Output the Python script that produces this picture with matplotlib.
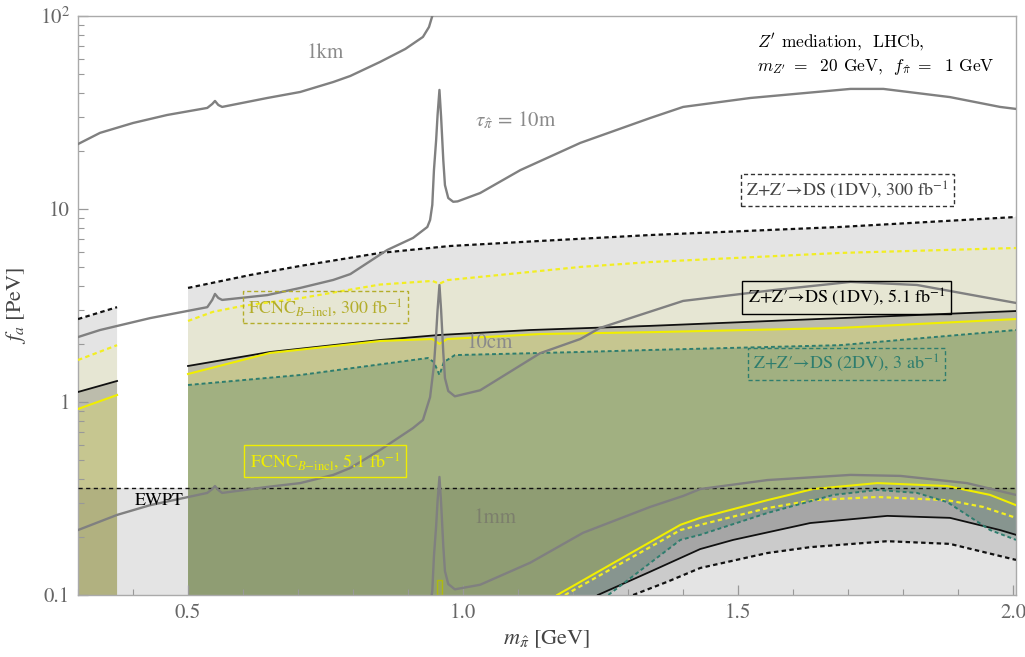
import matplotlib
matplotlib.use("Agg")
import matplotlib.pyplot as plt
from matplotlib.ticker import FixedLocator, NullFormatter

plt.rcParams['font.family'] = ['STIXGeneral', 'DejaVu Serif']
plt.rcParams['mathtext.fontset'] = 'stix'

# ---------------- data (m_pi in GeV, f_a in PeV) ----------------
# Z+Z'->DS (1DV), 300 fb^-1  (black dotted)
a_seg1_x = [0.300, 0.371]
a_seg1_y = [2.69, 3.10]
a_up_x = [0.500, 0.613, 0.704, 0.849, 0.976, 1.140, 1.340, 1.685, 2.005]
a_up_y = [3.90, 4.55, 5.07, 5.92, 6.43, 6.83, 7.33, 8.07, 9.09]
a_lo_x = [1.309, 1.371, 1.431, 1.553, 1.631, 1.771, 1.885, 2.005]
a_lo_y = [0.100, 0.117, 0.138, 0.165, 0.177, 0.190, 0.184, 0.152]

# FCNC_B-incl, 300 fb^-1 (yellow dashed)
b_seg1_x = [0.300, 0.371]
b_seg1_y = [1.65, 1.97]
b_up_x = [0.500, 0.545, 0.600, 0.704, 0.849, 0.944, 0.957, 0.971, 1.122, 1.213, 1.340, 1.685, 2.005]
b_up_y = [2.63, 2.93, 3.15, 3.45, 4.06, 4.24, 4.10, 4.28, 4.72, 5.01, 5.31, 5.92, 6.28]
b_lo_x = [1.185, 1.395, 1.431, 1.553, 1.636, 1.753, 1.880, 1.945, 2.005]
b_lo_y = [0.100, 0.217, 0.231, 0.282, 0.310, 0.322, 0.310, 0.286, 0.251]

# Z+Z'->DS (1DV), 5.1 fb^-1 (black solid)
c_seg1_x = [0.300, 0.371]
c_seg1_y = [1.127, 1.285]
c_up_x = [0.500, 0.649, 0.849, 0.957, 1.122, 1.340, 1.685, 2.005]
c_up_y = [1.537, 1.816, 2.096, 2.225, 2.36, 2.48, 2.72, 2.96]
c_lo_x = [1.245, 1.340, 1.431, 1.491, 1.631, 1.771, 1.885, 1.976, 2.005]
c_lo_y = [0.100, 0.132, 0.173, 0.193, 0.236, 0.257, 0.251, 0.217, 0.205]

# FCNC_B-incl, 5.1 fb^-1 (yellow solid)
d_seg1_x = [0.300, 0.371]
d_seg1_y = [0.92, 1.087]
d_up_x = [0.500, 0.649, 0.849, 0.944, 0.957, 0.971, 1.140, 1.340, 1.685, 2.005]
d_up_y = [1.397, 1.795, 2.07, 2.12, 2.00, 2.12, 2.25, 2.30, 2.42, 2.69]
d_lo_x = [1.171, 1.395, 1.431, 1.553, 1.636, 1.753, 1.880, 1.958, 2.005]
d_lo_y = [0.100, 0.231, 0.251, 0.310, 0.354, 0.380, 0.367, 0.330, 0.292]
d_isl_x = [0.953, 0.953, 0.962, 0.962]
d_isl_y = [0.100, 0.120, 0.120, 0.100]

# Z+Z'->DS (2DV), 3 ab^-1 (teal dashed)
e_up_x = [0.500, 0.704, 0.936, 0.947, 0.957, 0.965, 0.985, 1.213, 1.340, 1.685, 2.005]
e_up_y = [1.225, 1.38, 1.69, 1.61, 1.38, 1.61, 1.75, 1.816, 1.86, 1.97, 2.36]
e_lo_x = [1.264, 1.395, 1.431, 1.553, 1.673, 1.753, 1.825, 1.880, 1.958, 2.005]
e_lo_y = [0.100, 0.193, 0.205, 0.266, 0.330, 0.350, 0.338, 0.303, 0.217, 0.193]

# EWPT bound
ewpt_f = 0.358

# lifetime contours (gray)
km_x = [0.300, 0.340, 0.400, 0.462, 0.535, 0.544, 0.549, 0.555, 0.562, 0.644, 0.704,
        0.764, 0.795, 0.849, 0.895, 0.927, 0.938, 0.944, 0.946]
km_y = [21.7, 24.8, 27.9, 30.7, 33.4, 35.0, 36.3, 34.6, 33.8, 37.6, 40.4,
        45.5, 48.9, 57.8, 67.5, 77.9, 87.7, 100.0, 107.0]

m10_x = [0.300, 0.340, 0.431, 0.535, 0.544, 0.549, 0.555, 0.562, 0.644, 0.704, 0.764,
         0.795, 0.862, 0.909, 0.935, 0.940, 0.944, 0.947, 0.951, 0.9536, 0.957, 0.960,
         0.964, 0.967, 0.973, 0.982, 0.990, 1.031, 1.104, 1.213, 1.340, 1.400, 1.522,
         1.704, 1.764, 1.885, 1.976, 2.005]
m10_y = [2.17, 2.36, 2.72, 3.10, 3.38, 3.63, 3.46, 3.38, 3.58, 3.90, 4.29,
         4.60, 6.13, 7.08, 8.07, 8.77, 10.5, 15.9, 22.8, 30.7, 41.4, 30.0,
         17.9, 13.3, 11.4, 10.9, 10.95, 12.1, 15.9, 22.0, 29.6, 33.8, 37.6,
         41.9, 41.9, 38.0, 33.8, 33.0]

cm10_x = [0.300, 0.371, 0.431, 0.535, 0.544, 0.549, 0.555, 0.562, 0.644, 0.704, 0.764,
          0.795, 0.849, 0.909, 0.927, 0.940, 0.947, 0.951, 0.9536, 0.957, 0.960, 0.964,
          0.967, 0.973, 0.985, 1.031, 1.140, 1.213, 1.249, 1.400, 1.564, 1.704, 1.825,
          1.945, 2.005]
cm10_y = [0.217, 0.260, 0.292, 0.338, 0.354, 0.367, 0.350, 0.338, 0.363, 0.380, 0.419,
          0.455, 0.564, 0.733, 0.807, 1.06, 1.55, 2.25, 3.00, 4.04, 3.00, 1.80,
          1.33, 1.14, 1.07, 1.15, 1.79, 2.12, 2.42, 3.34, 3.80, 4.19, 4.04,
          3.50, 3.26]

mm_x = [0.940, 0.944, 0.947, 0.951, 0.9536, 0.957, 0.960, 0.964, 0.967, 0.973, 0.985,
        1.031, 1.122, 1.218, 1.340, 1.400, 1.431, 1.553, 1.704, 1.795, 1.916, 2.005]
mm_y = [0.088, 0.105, 0.159, 0.228, 0.307, 0.409, 0.300, 0.179, 0.133, 0.114, 0.107,
        0.113, 0.147, 0.210, 0.286, 0.326, 0.354, 0.394, 0.419, 0.414, 0.380, 0.330]

# ---------------- styles ----------------
BOT = 0.05
A_fc = (0, 0, 0, 0.105)
B_fc = (1, 1, 0, 0.075)
C_fc = (0, 0, 0, 0.18)
D_fc = (1, 1, 0, 0.16)
E_fc = (42/255, 107/255, 82/255, 0.23)
EW_fc = (0, 0, 0, 0.105)
BLK = '#111111'
YEL_D = '#f2ee22'
YEL = '#f0ee00'
TEAL = '#2e7d6e'
GRAY = '#808080'
dotted = (0, (2.0, 1.5))

fig = plt.figure(figsize=(10.25, 6.57), dpi=100)
ax = fig.add_axes([78/1025, 62/657, 938/1025, 579/657])
ax.set_yscale('log')
ax.set_xlim(0.3, 2.005)
ax.set_ylim(0.1, 100)


def fill_band(xu, yu, xl=None, yl=None, fc=None):
    xs = [xu[0]] + list(xu)
    ys = [BOT] + list(yu)
    if xl is None:
        xs += [xu[-1]]
        ys += [BOT]
    else:
        xs += list(xl[::-1]) + [xl[0]]
        ys += list(yl[::-1]) + [BOT]
    ax.fill(xs, ys, fc=fc, ec='none', zorder=1)


bands = [
    (a_seg1_x, a_seg1_y, a_up_x, a_up_y, a_lo_x, a_lo_y, A_fc),
    (b_seg1_x, b_seg1_y, b_up_x, b_up_y, b_lo_x, b_lo_y, B_fc),
    (c_seg1_x, c_seg1_y, c_up_x, c_up_y, c_lo_x, c_lo_y, C_fc),
    (d_seg1_x, d_seg1_y, d_up_x, d_up_y, d_lo_x, d_lo_y, D_fc),
]
for s1x, s1y, ux, uy, lx, ly, fc in bands:
    fill_band(s1x, s1y, fc=fc)
    fill_band(ux, uy, lx, ly, fc=fc)
ax.fill(d_isl_x, d_isl_y, fc=D_fc, ec=YEL, lw=1.0, zorder=1)
fill_band(e_up_x, e_up_y, e_lo_x, e_lo_y, fc=E_fc)
ax.fill([0.3, 0.3, 2.005, 2.005], [BOT, ewpt_f, ewpt_f, BOT], fc=EW_fc, ec='none', zorder=1)

# boundary lines
for xs, ys in [(a_seg1_x, a_seg1_y), (a_up_x, a_up_y), (a_lo_x, a_lo_y)]:
    ax.plot(xs, ys, color=BLK, lw=1.6, ls=dotted, zorder=3)
for xs, ys in [(b_seg1_x, b_seg1_y), (b_up_x, b_up_y), (b_lo_x, b_lo_y)]:
    ax.plot(xs, ys, color=YEL_D, lw=1.6, ls=dotted, zorder=3)
for xs, ys in [(c_seg1_x, c_seg1_y), (c_up_x, c_up_y), (c_lo_x, c_lo_y)]:
    ax.plot(xs, ys, color=BLK, lw=1.3, zorder=3)
for xs, ys in [(d_seg1_x, d_seg1_y), (d_up_x, d_up_y), (d_lo_x, d_lo_y)]:
    ax.plot(xs, ys, color=YEL, lw=1.5, zorder=3)
for xs, ys in [(e_up_x, e_up_y), (e_lo_x, e_lo_y)]:
    ax.plot(xs, ys, color=TEAL, lw=1.4, ls=dotted, zorder=3)
ax.axhline(ewpt_f, color=BLK, lw=1.0, ls=(0, (3, 2.5)), zorder=4)

# lifetime contours
for xs, ys in [(km_x, km_y), (m10_x, m10_y), (cm10_x, cm10_y), (mm_x, mm_y)]:
    ax.plot(xs, ys, color=GRAY, lw=1.7, zorder=5, solid_joinstyle='round')

# contour labels
ax.text(0.749, 64.3, '1km', color='#8a8a8a', fontsize=15, ha='center', va='center', zorder=6)
ax.text(1.095, 28.9, r'$\tau_{\hat{\pi}}\,=\,10\mathrm{m}$', color='#8a8a8a', fontsize=15,
        ha='center', va='center', zorder=6)
ax.text(1.049, 2.02, '10cm', color='#8a8a8a', fontsize=15, ha='center', va='center', zorder=6)
ax.text(1.058, 0.251, '1mm', color='#7c7f6c', fontsize=15, ha='center', va='center', zorder=6)
ax.text(0.447, 0.307, 'EWPT', color='black', fontsize=13, ha='center', va='center', zorder=6)

# boxed labels
def boxed(x, y, s, tc, ec, ls):
    ax.text(x, y, s, color=tc, fontsize=13, ha='center', va='center', zorder=7,
            bbox=dict(boxstyle='square,pad=0.3', fc='none', ec=ec, ls=ls, lw=1.0))

boxed(1.698, 12.5, r'Z+Z′→DS (1DV), 300 fb$^{-1}$', '#444444', '#333333', (0, (3, 2)))
boxed(0.750, 3.10, r'FCNC$_{B\mathrm{-incl}}$, 300 fb$^{-1}$', '#b3ad2a', '#b3ad2a', (0, (3, 2)))
boxed(1.697, 3.48, r'Z+Z′→DS (1DV), 5.1 fb$^{-1}$', 'black', 'black', '-')
boxed(1.697, 1.58, r'Z+Z′→DS (2DV), 3 ab$^{-1}$', TEAL, TEAL, (0, (3, 2)))
boxed(0.749, 0.494, r'FCNC$_{B\mathrm{-incl}}$, 5.1 fb$^{-1}$', YEL, YEL, '-')

# header
ax.text(1.535, 73.3, r"$Z'$ mediation,  LHCb,", fontfamily='cmr10', math_fontfamily='cm',
        fontsize=12.5, ha='left', va='center', zorder=7)
ax.text(1.535, 54.4, r"$m_{Z'}\;=\;$ 20 GeV,  $f_{\hat{\pi}}\;=\;$ 1 GeV", fontfamily='cmr10',
        math_fontfamily='cm', fontsize=12.5, ha='left', va='center', zorder=7)

# axes styling
for sp in ax.spines.values():
    sp.set_color('#aaaaaa')
    sp.set_linewidth(1.0)
ax.xaxis.set_major_locator(FixedLocator([0.5, 1.0, 1.5, 2.0]))
ax.xaxis.set_minor_locator(FixedLocator([0.3, 0.4, 0.6, 0.7, 0.8, 0.9, 1.1, 1.2, 1.3, 1.4,
                                         1.6, 1.7, 1.8, 1.9]))
ax.set_xticklabels(['0.5', '1.0', '1.5', '2.0'])
ax.yaxis.set_major_locator(FixedLocator([0.1, 1, 10, 100]))
ax.yaxis.set_minor_locator(FixedLocator([m * 10.0**e for e in (-1, 0, 1) for m in range(2, 10)]))
ax.yaxis.set_minor_formatter(NullFormatter())
ax.set_yticklabels(['0.1', '1', '10', r'$10^2$'])
ax.tick_params(which='both', direction='in', top=False, right=False, color='#999999',
               labelcolor='#666666', labelsize=15, pad=6)
ax.tick_params(which='major', length=7, width=0.9)
ax.tick_params(which='minor', length=4, width=0.8)
ax.set_xlabel(r'$m_{\hat{\pi}}$ [GeV]', fontsize=16, color='#444444', labelpad=4)
ax.set_ylabel(r'$f_a$ [PeV]', fontsize=16, color='#444444', labelpad=8)

fig.savefig('out.png', dpi=100)
